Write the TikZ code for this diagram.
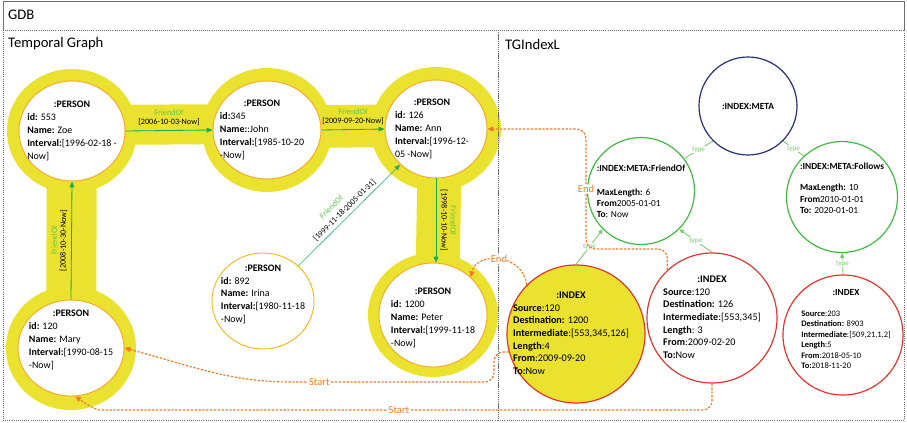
\documentclass[tikz,border=0pt]{standalone}
\usepackage{fontspec}
\setmainfont{Carlito}
\usetikzlibrary{arrows.meta,shapes.geometric,backgrounds}

\definecolor{gdbyellow}{RGB}{234,226,46}
\definecolor{ringorange}{RGB}{246,168,38}
\definecolor{plainorange}{RGB}{247,184,30}
\definecolor{relgreen}{RGB}{24,172,80}
\definecolor{relteal}{RGB}{30,176,120}
\definecolor{lblgreen}{RGB}{96,200,72}
\definecolor{typegreen}{RGB}{112,204,100}
\definecolor{metagreen}{RGB}{64,186,64}
\definecolor{metanavy}{RGB}{36,44,112}
\definecolor{idxred}{RGB}{226,52,44}
\definecolor{linkorange}{RGB}{240,122,40}
\definecolor{framegray}{RGB}{110,110,110}

% record card: bold title centred over left aligned lines
\newcommand\card[3][0pt]{\begin{tabular}{@{}l@{}}\multicolumn{1}{@{}c@{}}{\textbf{#2}}\\[#1]#3\end{tabular}}

\tikzset{
  r/.style 2 args={minimum width=#1*0.06cm, minimum height=#2*0.06cm},
  person/.style={ellipse, draw=ringorange, line width=0.8pt, fill=white, inner sep=0pt},
  txt/.style={font=\fontsize{8.5}{11}\selectfont, inner sep=0pt},
  ring/.style={fill=gdbyellow},
  band/.style={draw=gdbyellow},
  rel/.style={draw=relgreen, line width=0.7pt, -{Triangle[length=5pt,width=4pt]}},
  flab/.style={font=\fontsize{7}{7}\selectfont, text=lblgreen, inner sep=0pt},
  dlab/.style={font=\fontsize{7}{7}\selectfont, inner sep=0pt},
  meta/.style={circle, line width=1pt, fill=white, inner sep=0pt},
  mtxt/.style={font=\fontsize{8}{9.5}\selectfont, align=left, inner sep=0pt},
  index/.style={circle, draw=idxred, line width=1pt, inner sep=0pt},
  itxt/.style={font=\fontsize{8.7}{10.8}\selectfont, inner sep=0pt},
  typeof/.style={draw=typegreen, line width=0.7pt, -{Triangle[length=4pt,width=3.5pt]}},
  tlab/.style={font=\fontsize{6}{6}\selectfont, text=typegreen, fill=white, inner sep=0.5pt},
  link/.style={draw=linkorange, line width=1pt, dash pattern=on 2pt off 1.3pt, rounded corners=8pt, -{Triangle[length=5pt,width=4.5pt]}},
  llab/.style={font=\fontsize{9}{9}\selectfont, text=linkorange, fill=white, inner sep=1pt},
  head/.style={font=\fontsize{12.5}{12.5}\selectfont, anchor=west, inner sep=0pt},
}

\begin{document}
\begin{tikzpicture}[x=0.03cm, y=-0.03cm]
\useasboundingbox (0,0) rectangle (907,422);

% frames
\draw[framegray, line width=0.8pt] (3,30) |- (904.5,1.5) -- (904.5,30);
\draw[framegray, line width=0.8pt, densely dotted] (3,30) rectangle (498,420) (498,30) rectangle (904.5,420);
\node[head] (gdb) at (8,15) {GDB};
\node[head] (tgraph) at (8,44) {Temporal Graph};
\node[head] (tgindex) at (505,44) {TGIndexL};

% temporal graph
\node[person, r={53}{50}, label={[txt]center:{\card{:PERSON}{\textbf{id:} 553\\\textbf{Name:} Zoe\\\textbf{Interval:}[1996-02-18 -\\Now]}}}] (zoe) at (72,131) {};
\node[person, r={54}{49}, label={[txt, xshift=-0.15cm]center:{\card{:PERSON}{\textbf{id:}345\\\textbf{Name:}:John\\\textbf{Interval:}[1985-10-20\\-Now]}}}] (john) at (267,130) {};
\node[person, r={51}{49}, label={[txt, xshift=-0.12cm]center:{\card{:PERSON}{\textbf{id:} 126\\\textbf{Name:} Ann\\\textbf{Interval:}[1996-12-\\05 -Now]}}}] (ann) at (436,129) {};
\node[person, r={54}{52}, label={[txt, yshift=-0.08cm]center:{\card{:PERSON}{\textbf{id:} 1200\\\textbf{Name:} Peter\\\textbf{Interval:}[1999-11-18\\-Now]}}}] (peter) at (433,315) {};
\node[person, r={53}{48}, label={[txt, yshift=0.25cm]center:{\card{:PERSON}{\textbf{id:} 120\\\textbf{Name:} Mary\\\textbf{Interval:}[1990-08-15\\-Now]}}}] (mary) at (71,348) {};
\node[person, draw=plainorange, r={51}{48}, label={[txt, yshift=0.2cm]center:{\card{:PERSON}{\textbf{id:} 892\\\textbf{Name:} Irina\\\textbf{Interval:}[1980-11-18\\-Now]}}}] (irina) at (263,301) {};

% yellow rings and bands behind the persons
\begin{scope}[on background layer]
  \draw[band, line width=1.2cm] ([yshift=0.18cm]zoe.center) -- ([yshift=0.18cm]john.center);
  \draw[band, line width=1.28cm] ([yshift=0.1cm]john.center) -- ([yshift=0.1cm]ann.center);
  \draw[band, line width=1.5cm] (mary.center) -- (zoe.center);
  \draw[band, line width=1.32cm] ([xshift=0.12cm]ann.center) -- ([xshift=0.12cm]peter.center);
  \foreach \p in {zoe,john,ann,peter,mary}
    \fill[ring] (\p.center) ellipse[x radius=65, y radius=62];
\end{scope}

\draw[rel] (zoe.east) -- (john.west) node[midway, above=3.5pt, dlab] {[2006-10-03-Now]} node[midway, above=12pt, flab] {FriendOf};
\draw[rel] (john.east) -- (ann.west) node[midway, above=3.5pt, dlab] {[2009-09-20-Now]} node[midway, above=12pt, flab] {FriendOf};
\draw[rel] (mary.north) -- (zoe.south) node[midway, sloped, above=3.5pt, dlab] {[2008-10-30-Now]} node[midway, sloped, above=12pt, flab] {FriendOf};
\draw[rel] (ann.south) -- (ann.south |- peter.north) node[midway, sloped, above=3.5pt, dlab] {[1998-10-10-Now]} node[midway, sloped, above=12pt, flab] {FriendOf};
\draw[rel, draw=relteal, line width=0.5pt] (irina) -- (ann) node[midway, sloped, above=2.5pt, dlab] {[1999-11-18-2005-01-31]} node[pos=0.45, sloped, above=13pt, flab] {FriendOf};

% index side
\node[meta, draw=metanavy, minimum size=2.94cm, font=\bfseries\fontsize{8}{9}\selectfont] (meta) at (748,106) {:INDEX:META};
\node[meta, draw=metagreen, minimum size=3.21cm, label={[mtxt]center:{\textbf{:INDEX:META:FriendOf}\\[11pt]\textbf{MaxLength:} 6\\\textbf{From}2005-01-01\\\textbf{To}: Now}}] (fmeta) at (641,191) {};
\node[meta, draw=metagreen, minimum size=3.33cm, label={[mtxt, yshift=0.27cm]center:{\textbf{:INDEX:META:Follows}\\[9pt]\textbf{MaxLength:} 10\\\textbf{From}2010-01-01\\\textbf{To:} 2020-01-01}}] (follows) at (842,197) {};

\node[index, fill=gdbyellow, minimum size=4.14cm, label={[itxt, xshift=-0.15cm]center:{\card{:INDEX}{\textbf{Source}:120\\\textbf{Destination:} 1200\\\textbf{Intermediate}:[553,345,126]\\\textbf{Length}:4\\\textbf{From}:2009-09-20\\\textbf{To:}Now}}}] (idx1) at (576,334) {};
\node[index, fill=white, minimum size=3.9cm, label={[itxt]center:{\card{:INDEX}{\textbf{Source}:120\\\textbf{Destination:} 126\\\textbf{Intermediate}:[553,345]\\\textbf{Length}: 3\\\textbf{From}:2009-02-20\\\textbf{To:}Now}}}] (idx2) at (712,318) {};
\node[index, fill=white, minimum size=3.6cm, label={[txt, font=\fontsize{7.2}{8.9}\selectfont, xshift=0.09cm, yshift=0.15cm]center:{\card[9pt]{\fontsize{8}{9}\selectfont:INDEX}{\textbf{Source}:203\\\textbf{Destination:} 8903\\\textbf{Intermediate}:[509,21,1,2]\\\textbf{Length}:5\\\textbf{From}:2018-05-10\\\textbf{To:}2018-11-20}}}] (idx3) at (843,335) {};

\draw[typeof, -] (meta.-135) -- (fmeta.37) node[midway, tlab] {type};
\draw[typeof, -] (meta.-45) -- (follows.133) node[midway, tlab] {type};
\draw[typeof] (idx1.north) -- (fmeta.-135) node[midway, tlab] {type};
\draw[typeof] (idx2.north) -- (fmeta.-45) node[midway, tlab] {type};
\draw[typeof] (idx3.north) -- (follows.south) node[midway, tlab] {type};

% path ends and starts
\draw[link] (idx2.133) |- (586,249) |- (ann.east) node[pos=0.25, llab] {End};
\draw[link] (idx1.135) .. controls (522,252) and (476,252) .. (peter.45) node[pos=0.5, llab] {End};
\draw[link] (idx1.-165) -| (494,382) -- (300,382) node[pos=0.9, llab] {Start} to[out=180, in=-15] (mary.east);
\draw[link] (idx2.south) |- (110,410) node[pos=0.76, llab] {Start} to[out=180, in=-35] (mary.-85);
\end{tikzpicture}
\end{document}
